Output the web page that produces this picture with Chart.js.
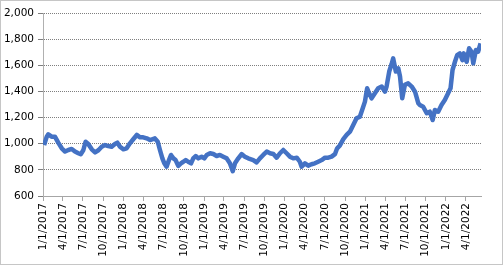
<!DOCTYPE html>
<html>
<head>
<meta charset="utf-8">
<script src="https://cdn.jsdelivr.net/npm/chart.js@4.4.0/dist/chart.umd.min.js"></script>
<style>
  html, body { margin: 0; padding: 0; background: #fff; }
</style>
</head>
<body>
<canvas id="chart" width="503" height="265"></canvas>
<script>
// days since 1/1/2017 for each sampled point
const dayOffsets = [
    5, 17, 24, 39, 54, 69, 85, 100, 115, 130, 145, 160, 171, 183, 193, 205, 221, 236, 251, 266,
    281, 296, 311, 326, 337, 349, 364, 379, 394, 409, 425, 440, 454, 470, 485, 507, 520, 530, 541, 550,
    560, 571, 580, 591, 601, 613, 625, 636, 647, 658, 671, 681, 692, 704, 719, 731, 742, 757, 772, 787,
    802, 817, 832, 847, 860, 870, 885, 900, 915, 930, 953, 968, 983, 998, 1014, 1029, 1044, 1059, 1074, 1089,
    1104, 1119, 1134, 1150, 1164, 1172, 1187, 1202, 1217, 1232, 1247, 1263, 1278, 1293, 1308, 1323, 1333, 1345, 1361, 1376,
    1391, 1406, 1421, 1436, 1449, 1459, 1469, 1478, 1489, 1504, 1519, 1535, 1550, 1557, 1569, 1580, 1587, 1599, 1610, 1618,
    1628, 1640, 1655, 1671, 1686, 1701, 1708, 1723, 1739, 1753, 1766, 1776, 1791, 1806, 1821, 1836, 1847, 1856, 1867, 1877,
    1889, 1901, 1907, 1920, 1931, 1942, 1950, 1962, 1972, 1983
]
const values = [
    990, 1054, 1072, 1054, 1054, 1008, 965, 940, 952, 960, 940, 927, 919, 952, 1015, 998, 957, 934, 950, 977,
    990, 982, 977, 998, 1008, 977, 957, 965, 1003, 1034, 1067, 1049, 1049, 1041, 1028, 1041, 1015, 952, 888, 850,
    824, 875, 914, 888, 875, 830, 850, 862, 875, 862, 850, 888, 906, 888, 901, 888, 914, 927, 921, 906,
    914, 901, 888, 850, 790, 850, 888, 921, 901, 888, 875, 857, 888, 914, 940, 927, 921, 893, 927, 952,
    927, 901, 888, 893, 862, 824, 850, 832, 843, 850, 862, 875, 893, 893, 901, 920, 965, 985, 1035, 1067,
    1092, 1143, 1194, 1207, 1271, 1322, 1424, 1386, 1347, 1386, 1424, 1437, 1398, 1437, 1552, 1610, 1653, 1552, 1577, 1514,
    1347, 1450, 1462, 1437, 1398, 1309, 1296, 1283, 1233, 1245, 1181, 1258, 1245, 1296, 1334, 1386, 1424, 1564, 1627, 1678,
    1691, 1640, 1691, 1627, 1730, 1704, 1615, 1717, 1704, 1768
]
const tickLabels = [
    '1/1/2017', '4/1/2017', '7/1/2017', '10/1/2017',
    '1/1/2018', '4/1/2018', '7/1/2018', '10/1/2018',
    '1/1/2019', '4/1/2019', '7/1/2019', '10/1/2019',
    '1/1/2020', '4/1/2020', '7/1/2020', '10/1/2020',
    '1/1/2021', '4/1/2021', '7/1/2021', '10/1/2021',
    '1/1/2022', '4/1/2022'
]

function dayOf(label) {
    const [m, d, y] = label.split('/').map(Number)
    return Math.round((Date.UTC(y, m - 1, d) - Date.UTC(2017, 0, 1)) / 86400000)
}
const tickDays = tickLabels.map(dayOf)

const font = { family: 'DejaVu Sans', size: 10.5 }

new Chart(document.getElementById('chart'), {
    type: 'line',
    data: {
        datasets: [{
            data: dayOffsets.map((d, i) => ({ x: d, y: values[i] })),
            borderColor: '#4472C4',
            borderWidth: 4.5,
            pointRadius: 0,
            tension: 0,
            borderJoinStyle: 'round'
        }]
    },
    options: {
        responsive: false,
        animation: false,
        layout: { padding: { top: 13, right: 22, left: 0, bottom: 0 } },
        plugins: {
            legend: { display: false },
            tooltip: { enabled: false }
        },
        scales: {
            x: {
                type: 'linear',
                min: 0,
                max: 1985,
                afterBuildTicks: scale => {
                    scale.ticks = tickDays.map(v => ({ value: v }))
                },
                afterFit: scale => { scale.height = 69 },
                ticks: {
                    autoSkip: false,
                    minRotation: 90,
                    maxRotation: 90,
                    padding: 2,
                    color: '#000',
                    font: font,
                    callback: value => tickLabels[tickDays.indexOf(value)]
                },
                grid: {
                    drawOnChartArea: false,
                    tickLength: 5,
                    color: '#a6a6a6'
                },
                border: { color: '#a6a6a6' }
            },
            y: {
                min: 600,
                max: 2000,
                afterFit: scale => { scale.width = 43 },
                ticks: {
                    stepSize: 200,
                    padding: 4,
                    color: '#000',
                    font: font,
                    callback: value => value.toLocaleString('en-US')
                },
                grid: {
                    color: '#7f7f7f',
                    tickLength: 5
                },
                border: { color: '#b0b0b0', dash: [1, 1] }
            }
        }
    },
    plugins: [{
        id: 'frame',
        beforeDraw: chart => {
            const { ctx } = chart
            ctx.save()
            ctx.fillStyle = '#ffffff'
            ctx.fillRect(0, 0, chart.width, chart.height)
            ctx.restore()
        },
        afterDraw: chart => {
            const { ctx } = chart
            ctx.save()
            ctx.strokeStyle = '#8c8c8c'
            ctx.lineWidth = 1
            ctx.setLineDash([1, 1])
            ctx.strokeRect(0.5, 0.5, chart.width - 1, chart.height - 1)
            ctx.restore()
        }
    }]
})
</script>
</body>
</html>
